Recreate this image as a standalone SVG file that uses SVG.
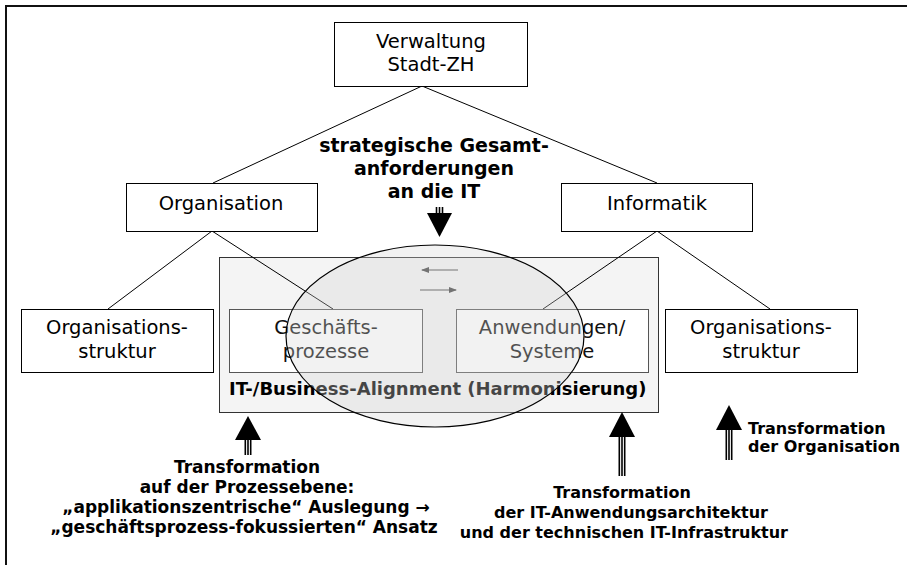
<svg xmlns="http://www.w3.org/2000/svg" width="907" height="565" viewBox="0 0 907 565">
<style>
.box{fill:#fff;stroke:#000;stroke-width:1}
.ibox{fill:#fff;stroke:#555;stroke-width:1}
.t{font-family:"DejaVu Sans",Verdana,sans-serif;font-size:19.5px;fill:#000;text-anchor:middle}
.b{font-family:"DejaVu Sans",Verdana,sans-serif;font-weight:bold;font-size:16px;fill:#000}
.ln{stroke:#000;stroke-width:1;fill:none}
.shaft{stroke:#000;stroke-width:1.6}
</style>
<defs>
<marker id="sm" markerWidth="8" markerHeight="6" refX="7" refY="3" orient="auto" markerUnits="userSpaceOnUse">
<path d="M0,0 L8,3 L0,6 Z" fill="#444"/>
</marker>
</defs>
<rect x="6" y="6" width="1000" height="1000" fill="#fff" stroke="#111" stroke-width="2"/>

<g id="alignment-box">
<rect x="219.5" y="257.5" width="439" height="155" fill="#f4f4f4" stroke="#333" stroke-width="1"/>
<text class="b" x="229" y="395" style="font-size:18px">IT-/Business-Alignment (Harmonisierung)</text>
</g>

<g id="connectors">
<line class="ln" x1="422" y1="86" x2="213" y2="183"/>
<line class="ln" x1="422" y1="86" x2="657" y2="183"/>
<line class="ln" x1="212" y1="231" x2="108" y2="309"/>
<line class="ln" x1="212" y1="231" x2="333" y2="309"/>
<line class="ln" x1="657" y1="231" x2="543" y2="309"/>
<line class="ln" x1="657" y1="231" x2="770" y2="309"/>
<line x1="458" y1="270" x2="422" y2="270" stroke="#444" stroke-width="1" marker-end="url(#sm)"/>
<line x1="420" y1="290" x2="456" y2="290" stroke="#444" stroke-width="1" marker-end="url(#sm)"/>
</g>

<g id="verwaltung">
<rect class="box" x="334.5" y="22.5" width="193" height="64"/>
<text class="t" x="431" y="48">Verwaltung</text>
<text class="t" x="431" y="71">Stadt-ZH</text>
</g>
<g id="organisation">
<rect class="box" x="126.5" y="183.5" width="191" height="48"/>
<text class="t" x="221" y="210">Organisation</text>
</g>
<g id="informatik">
<rect class="box" x="561.5" y="183.5" width="191" height="48"/>
<text class="t" x="657" y="210">Informatik</text>
</g>
<g id="orgstruktur-left">
<rect class="box" x="21.5" y="309.5" width="192" height="63"/>
<text class="t" x="117" y="334">Organisations-</text>
<text class="t" x="117" y="358">struktur</text>
</g>
<g id="geschaeftsprozesse">
<rect class="ibox" x="229.5" y="309.5" width="193" height="63"/>
<text class="t" x="326" y="334" style="fill:#111">Geschäfts-</text>
<text class="t" x="326" y="358" style="fill:#111">prozesse</text>
</g>
<g id="anwendungen">
<rect class="ibox" x="456.5" y="309.5" width="192" height="63"/>
<text class="t" x="552" y="334" style="fill:#111">Anwendungen/</text>
<text class="t" x="552" y="358" style="fill:#111">Systeme</text>
</g>
<g id="orgstruktur-right">
<rect class="box" x="665.5" y="309.5" width="192" height="63"/>
<text class="t" x="761" y="334">Organisations-</text>
<text class="t" x="761" y="358">struktur</text>
</g>

<g id="harmonisierung-ellipse">
<ellipse cx="435" cy="336" rx="149" ry="91" fill="#d8d8d8" fill-opacity="0.32" stroke="#000" stroke-width="1.2"/>
</g>

<g id="strategic-label">
<text class="b" x="434" y="152" text-anchor="middle" style="font-size:19px">strategische Gesamt-</text>
<text class="b" x="434" y="175" text-anchor="middle" style="font-size:19px">anforderungen</text>
<text class="b" x="434" y="198" text-anchor="middle" style="font-size:19px">an die IT</text>
<line class="shaft" x1="436.5" y1="207" x2="436.5" y2="214"/>
<line class="shaft" x1="439.5" y1="207" x2="439.5" y2="214"/>
<line class="shaft" x1="442.5" y1="207" x2="442.5" y2="214"/>
<path d="M427,213 L452,213 L439.5,237 Z" fill="#000"/>
</g>

<g id="arrow-process">
<line class="shaft" x1="245.3" y1="439" x2="245.3" y2="455"/>
<line class="shaft" x1="248" y1="439" x2="248" y2="455"/>
<line class="shaft" x1="250.7" y1="439" x2="250.7" y2="455"/>
<path d="M248,416 L261,440 L235,440 Z" fill="#000"/>
<g style="font-size:17px" text-anchor="middle">
<text class="b" x="247" y="473" style="font-size:17px">Transformation</text>
<text class="b" x="247" y="493" style="font-size:17px">auf der Prozessebene:</text>
<text class="b" x="246" y="513" style="font-size:17px">„applikationszentrische“ Auslegung →</text>
<text class="b" x="244" y="533" style="font-size:17px">„geschäftsprozess-fokussierten“ Ansatz</text>
</g>
</g>

<g id="arrow-it">
<line class="shaft" x1="619.3" y1="436" x2="619.3" y2="476"/>
<line class="shaft" x1="622" y1="436" x2="622" y2="476"/>
<line class="shaft" x1="624.7" y1="436" x2="624.7" y2="476"/>
<path d="M622,412 L635,437 L609,437 Z" fill="#000"/>
<text class="b" x="622" y="498" text-anchor="middle">Transformation</text>
<text class="b" x="768" y="518" text-anchor="end">der IT-Anwendungsarchitektur</text>
<text class="b" x="788" y="538" text-anchor="end">und der technischen IT-Infrastruktur</text>
</g>

<g id="arrow-org">
<line class="shaft" x1="726.3" y1="429" x2="726.3" y2="460"/>
<line class="shaft" x1="729" y1="429" x2="729" y2="460"/>
<line class="shaft" x1="731.7" y1="429" x2="731.7" y2="460"/>
<path d="M729,405 L742,430 L716,430 Z" fill="#000"/>
<text class="b" x="748" y="434">Transformation</text>
<text class="b" x="748" y="452">der Organisation</text>
</g>
</svg>
